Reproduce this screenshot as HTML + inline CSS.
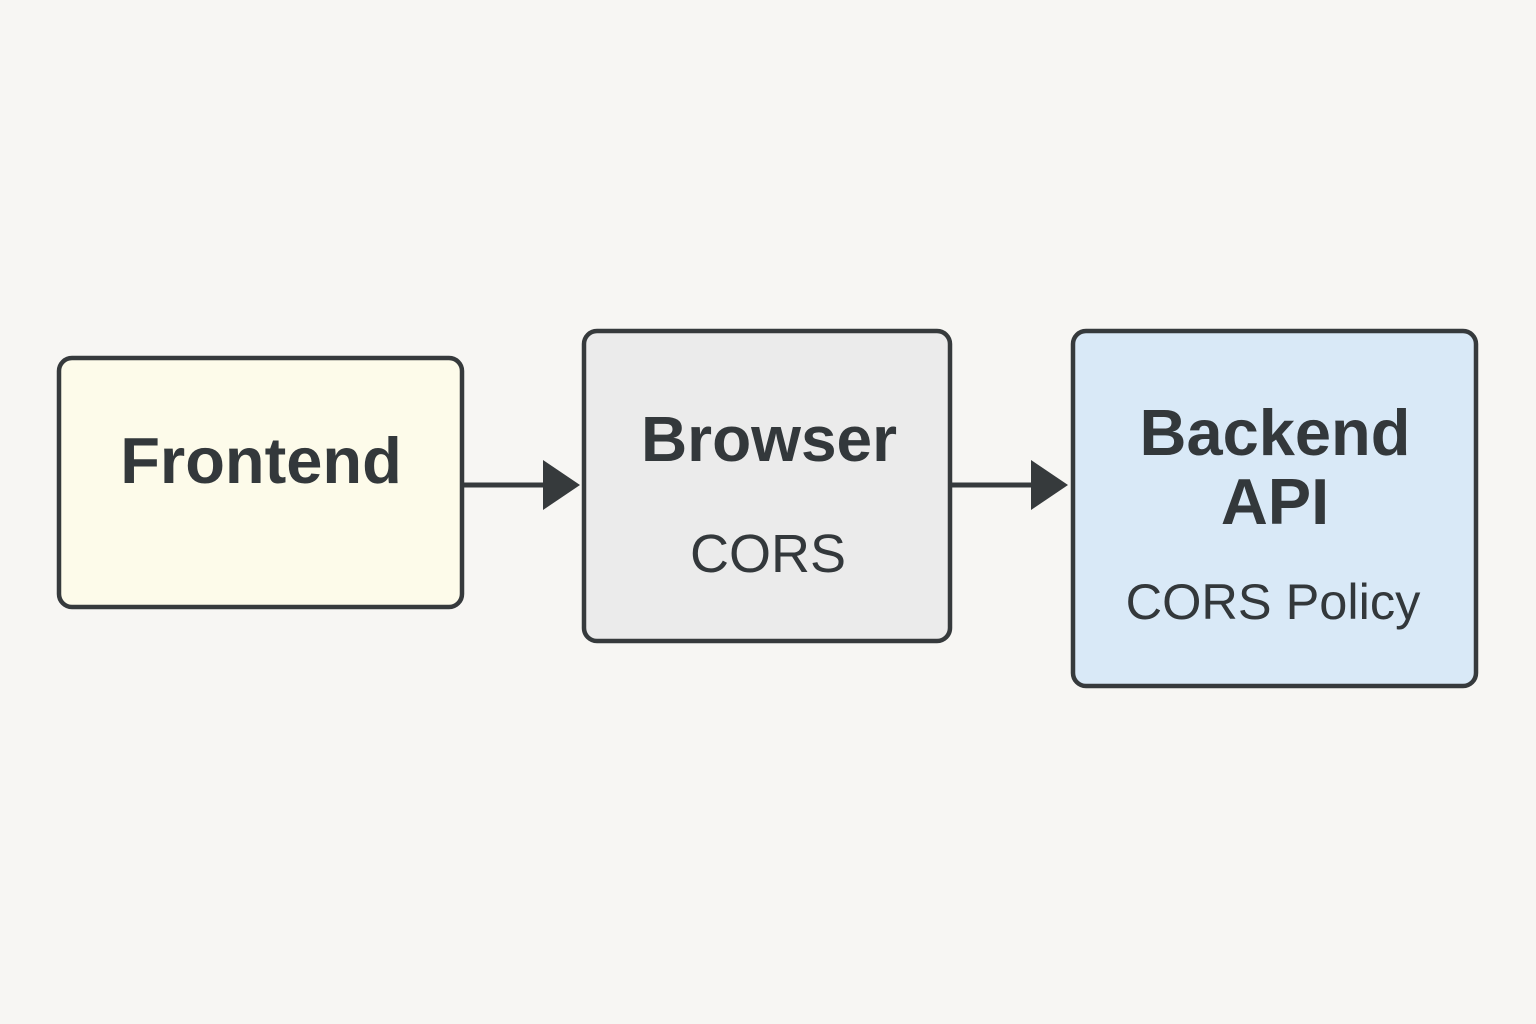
<!DOCTYPE html>
<html><head><meta charset="utf-8"><style>
html,body{margin:0;padding:0;width:1536px;height:1024px;background:#f7f6f3;overflow:hidden}
</style></head><body>
<svg width="1536" height="1024" xmlns="http://www.w3.org/2000/svg" style="position:absolute;left:0;top:0">
<rect width="1536" height="1024" fill="#f7f6f3"/>
<rect x="59" y="358" width="403" height="249" rx="13" fill="#fdfbea" stroke="#363a3c" stroke-width="4.5"/>
<rect x="584" y="331" width="366" height="310" rx="13" fill="#ebebeb" stroke="#363a3c" stroke-width="4.5"/>
<rect x="1073" y="331" width="403" height="355" rx="13" fill="#d9e9f7" stroke="#363a3c" stroke-width="4.5"/>
<line x1="463" y1="485" x2="548" y2="485" stroke="#363a3c" stroke-width="5"/>
<polygon points="543,460 580,485 543,510" fill="#363a3c"/>
<line x1="951" y1="485" x2="1036" y2="485" stroke="#363a3c" stroke-width="5"/>
<polygon points="1031,460 1068,485 1031,510" fill="#363a3c"/>
<g font-family="Liberation Sans, sans-serif" fill="#33383b" text-anchor="middle">
<text x="261" y="483" font-size="65" font-weight="bold">Frontend</text>
<text x="769" y="461" font-size="64" font-weight="bold">Browser</text>
<text x="768" y="572" font-size="54">CORS</text>
<text x="1275" y="455" font-size="65" font-weight="bold">Backend</text>
<text x="1275" y="524" font-size="65" font-weight="bold">API</text>
<text x="1273" y="619" font-size="50.5">CORS Policy</text>
</g>
</svg>
</body></html>
